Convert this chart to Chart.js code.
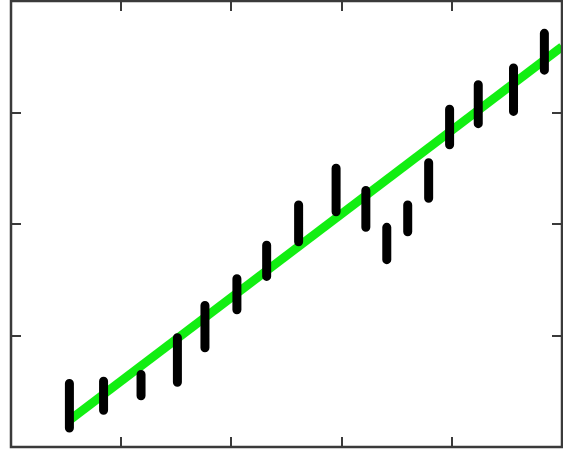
<!DOCTYPE html>
<html>
<head>
<meta charset="utf-8">
<script src="https://cdn.jsdelivr.net/npm/chart.js@4/dist/chart.umd.min.js"></script>
<style>
  html, body { margin: 0; padding: 0; background: #ffffff; }
  #wrap { width: 563px; height: 449px; }
</style>
</head>
<body>
<div id="wrap"><canvas id="c" width="563" height="449"></canvas></div>
<script>
// Measurement positions and their low / high extents
const xPos  = [0.53, 0.84, 1.18, 1.51, 1.76, 2.05, 2.32, 2.61, 2.95, 3.22, 3.41, 3.60, 3.79, 3.98, 4.24, 4.56, 4.84];
const lows  = [0.17, 0.33, 0.46, 0.58, 0.89, 1.23, 1.53, 1.84, 2.11, 1.97, 1.68, 1.93, 2.23, 2.71, 2.90, 3.01, 3.38];
const highs = [0.57, 0.59, 0.65, 0.98, 1.27, 1.51, 1.81, 2.17, 2.50, 2.30, 1.97, 2.17, 2.55, 3.03, 3.25, 3.40, 3.71];

// Fitted trend line end points
const fitX = [0.53, 5.0];
const fitY = [0.24, 3.59];

// Axis ranges and tick positions
const xRange = [0, 5];
const yRange = [0, 4];
const xTicks = [1, 2, 3, 4];
const yTicks = [1, 2, 3];

// Each range becomes a vertical segment; nulls break the line between them
const rangeData = [];
xPos.forEach((x, i) => {
  rangeData.push({ x: x, y: lows[i] });
  rangeData.push({ x: x, y: highs[i] });
  rangeData.push({ x: x, y: null });
});
const fitData = fitX.map((x, i) => ({ x: x, y: fitY[i] }));

// Box frame with inward tick marks on all four sides
const framePlugin = {
  id: 'frame',
  afterDatasetsDraw(chart) {
    const { ctx, chartArea: a, scales } = chart;
    const len = 10;
    ctx.save();
    ctx.strokeStyle = '#3a3a3a';
    ctx.lineWidth = 2;
    ctx.beginPath();
    xTicks.forEach(v => {
      const px = Math.round(scales.x.getPixelForValue(v));
      ctx.moveTo(px, a.top); ctx.lineTo(px, a.top + len);
      ctx.moveTo(px, a.bottom); ctx.lineTo(px, a.bottom - len);
    });
    yTicks.forEach(v => {
      const py = Math.round(scales.y.getPixelForValue(v));
      ctx.moveTo(a.left, py); ctx.lineTo(a.left + len, py);
      ctx.moveTo(a.right, py); ctx.lineTo(a.right - len, py);
    });
    ctx.stroke();
    ctx.lineWidth = 2.5;
    ctx.strokeRect(a.left, a.top, a.right - a.left, a.bottom - a.top);
    ctx.restore();
  }
};

new Chart(document.getElementById('c'), {
  type: 'line',
  data: {
    datasets: [
      {
        data: rangeData,
        borderColor: '#000000',
        borderWidth: 9,
        borderCapStyle: 'round',
        pointRadius: 0,
        spanGaps: false,
        tension: 0,
        order: 0
      },
      {
        data: fitData,
        borderColor: '#12ee12',
        borderWidth: 9,
        pointRadius: 0,
        tension: 0,
        order: 1
      }
    ]
  },
  options: {
    responsive: false,
    animation: false,
    devicePixelRatio: 1,
    layout: { padding: { left: 11, top: 1, right: 1, bottom: 2 } },
    plugins: { legend: { display: false }, tooltip: { enabled: false } },
    scales: {
      x: { type: 'linear', min: xRange[0], max: xRange[1], display: false },
      y: { type: 'linear', min: yRange[0], max: yRange[1], display: false }
    }
  },
  plugins: [framePlugin]
});
</script>
</body>
</html>
